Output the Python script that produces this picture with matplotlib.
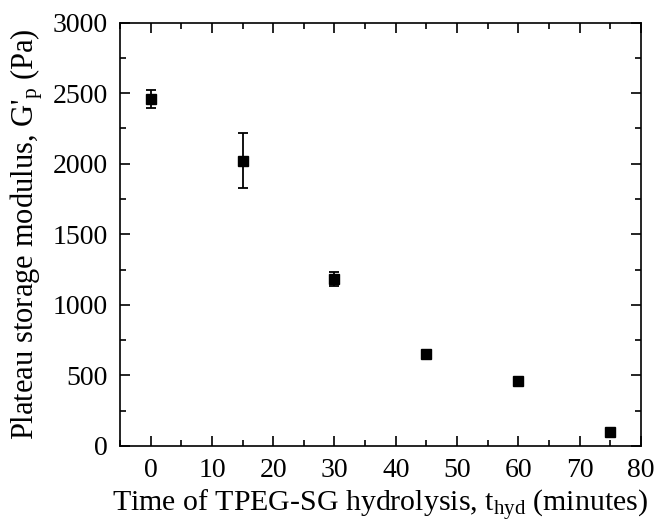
import matplotlib
matplotlib.use('Agg')
import matplotlib.pyplot as plt
from matplotlib.ticker import MultipleLocator

# hydrolysis time (minutes) and plateau modulus (Pa)
t_hyd = [0, 15, 30, 45, 60, 75]
G_p = [2460, 2020, 1182, 649, 460, 99]
G_err = [65, 195, 51, 20, 15, 15]

plt.rcParams['font.family'] = ['Liberation Serif', 'DejaVu Serif']
plt.rcParams['mathtext.fontset'] = 'custom'
plt.rcParams['mathtext.rm'] = 'Liberation Serif'
plt.rcParams['mathtext.it'] = 'Liberation Serif:italic'

fig = plt.figure(figsize=(6.58, 5.25), dpi=100)
ax = fig.add_axes([0.1824, 0.1505, 0.7916, 0.8065])

ax.errorbar(t_hyd, G_p, yerr=G_err, fmt='s', color='black', ms=7.5,
            ecolor='black', elinewidth=1.3, capsize=3.5, capthick=1.3)

ax.set_xlim(-5, 80)
ax.set_ylim(0, 3000)
ax.xaxis.set_major_locator(MultipleLocator(10))
ax.xaxis.set_minor_locator(MultipleLocator(5))
ax.yaxis.set_major_locator(MultipleLocator(500))
ax.yaxis.set_minor_locator(MultipleLocator(250))
ax.tick_params(which='both', direction='in', top=True, right=True, width=1.2)
ax.tick_params(which='major', length=7, labelsize=20, pad=9)
ax.tick_params(which='minor', length=4)
for s in ax.spines.values():
    s.set_linewidth(1.2)

ax.set_xlabel(r"Time of TPEG-SG hydrolysis, t$_\mathrm{hyd}$ (minutes)", fontsize=21.5, labelpad=3)
ax.set_ylabel(r"Plateau storage modulus, G'$_\mathrm{p}$ (Pa)", fontsize=22, labelpad=5)

fig.savefig('out.png', dpi=100)
